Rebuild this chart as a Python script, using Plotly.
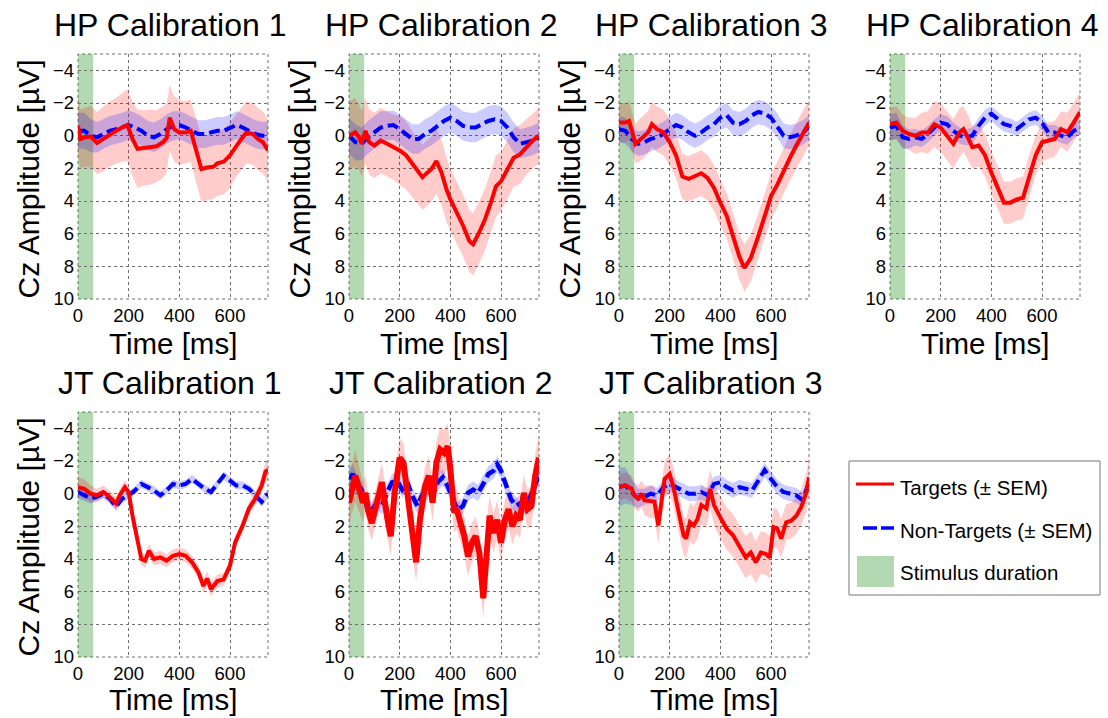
import plotly.graph_objects as go

# figure fills the whole window; body margin removed by a post script
OFF = 0
W, H = 1108, 718

# ---------------- data ----------------
t25 = [0, 25, 50, 75, 100, 125, 150, 175, 200, 225, 250, 275, 300, 325, 350, 375,
       400, 425, 450, 475, 500, 525, 550, 575, 600, 625, 650, 675, 700, 725, 750]

stim_window = [0, 60]

# HP Calibration 1
hp1_t_tg = [0, 10, 25, 50, 75, 100, 125, 150, 175, 195, 215, 235, 260, 285, 310, 335, 350, 362, 380, 400,
            425, 445, 465, 487, 510, 535, 550, 575, 600, 625, 645, 665, 690, 710, 730, 750]
hp1_tg = [-0.6, 0.2, 0.1, 0.05, 0.45, 0.2, -0.1, -0.3, -0.5, -0.65, 0.2, 0.8, 0.75, 0.7, 0.65, 0.4, 0.15, -1.1, -0.4, -0.2,
          -0.2, -0.3, 0.8, 2.05, 1.95, 1.9, 1.7, 1.6, 1.2, 0.6, 0.2, -0.2, -0.1, 0.2, 0.4, 0.9]
hp1_tg_sem = [1.8, 1.8, 1.8, 1.9, 1.9, 2.0, 2.0, 2.0, 2.1, 2.2, 2.3, 2.4, 2.3, 2.3, 2.2, 2.2, 2.1, 2.0, 2.0, 2.0,
              1.9, 1.9, 2.0, 2.0, 2.0, 2.0, 2.0, 2.0, 2.0, 1.9, 1.9, 1.9, 1.9, 1.9, 1.9, 1.9]
hp1_nt = [-0.3, -0.3, 0.0, 0.1, -0.1, -0.3, -0.4, -0.5, -0.65, -0.5, -0.3, 0.0, 0.1, -0.1, -0.4, -0.6,
          -0.65, -0.5, -0.3, -0.1, -0.1, -0.2, -0.3, -0.3, -0.45, -0.65, -0.5, -0.3, -0.1, 0.0, 0.0]
hp1_nt_sem = [1.1, 1.1, 1.0, 0.95, 0.9, 0.9, 0.9, 0.9, 0.9, 0.9, 0.9, 0.9, 0.9, 0.9, 0.9, 0.9,
              0.85, 0.85, 0.85, 0.85, 0.85, 0.85, 0.85, 0.85, 0.85, 0.85, 0.85, 0.85, 0.85, 0.85, 0.85]

# HP Calibration 2
hp2_t_tg = [0, 15, 25, 40, 50, 65, 80, 100, 125, 150, 175, 200, 225, 250, 275, 290, 310, 325, 345, 365,
            385, 400, 425, 450, 475, 490, 510, 535, 560, 580, 600, 625, 650, 675, 700, 725, 750]
hp2_tg = [0.0, -0.1, -0.2, 0.1, 0.5, -0.3, 0.4, 0.6, 0.3, 0.5, 0.7, 0.9, 1.2, 1.75, 2.25, 2.55, 2.25, 2.05, 1.55, 2.25,
          3.3, 3.9, 4.7, 5.5, 6.45, 6.65, 6.05, 5.2, 4.1, 3.1, 2.8, 2.05, 1.35, 1.15, 0.7, 0.3, 0.0]
hp2_tg_sem = [2.1, 2.1, 2.1, 2.0, 2.0, 2.0, 2.0, 2.0, 2.0, 2.0, 2.0, 2.1, 2.1, 2.0, 2.0, 2.0, 2.0, 2.0, 2.0, 2.0,
              2.0, 1.9, 1.9, 1.9, 1.9, 1.9, 1.9, 1.9, 1.9, 1.9, 1.8, 1.8, 1.8, 1.8, 1.7, 1.7, 1.7]
hp2_nt = [0.0, 0.4, 0.5, 0.1, -0.2, -0.5, -0.6, -0.65, -0.4, -0.1, 0.2, 0.2, -0.1, -0.3, -0.6, -0.9,
          -1.1, -0.9, -0.6, -0.5, -0.5, -0.7, -0.9, -1.0, -0.9, -0.5, 0.1, 0.5, 0.4, 0.3, 0.1]
hp2_nt_sem = [1.1, 1.1, 1.0, 1.0, 1.0, 1.0, 0.9, 0.9, 0.9, 0.9, 0.9, 0.9, 0.9, 0.9, 0.9, 0.9,
              0.9, 0.9, 0.9, 0.9, 0.9, 0.9, 0.9, 0.9, 0.9, 0.9, 0.9, 0.9, 0.9, 0.9, 0.9]

# HP Calibration 3
hp3_t_tg = [0, 25, 40, 55, 65, 80, 100, 115, 130, 150, 175, 200, 225, 250, 275, 300, 325, 350, 375, 400,
            425, 450, 475, 495, 520, 550, 575, 600, 625, 650, 675, 700, 725, 750]
hp3_tg = [-0.8, -0.8, -0.9, 0.0, 0.5, 0.3, 0.0, -0.2, -0.7, -0.4, -0.2, 0.4, 1.2, 2.5, 2.65, 2.45, 2.3, 2.6, 3.2, 4.1,
          4.9, 6.15, 7.4, 8.1, 7.5, 6.15, 4.9, 3.7, 3.0, 2.15, 1.35, 0.6, -0.1, -0.8]
hp3_tg_sem = [1.2, 1.2, 1.2, 1.2, 1.2, 1.3, 1.3, 1.3, 1.4, 1.4, 1.4, 1.4, 1.4, 1.4, 1.4, 1.4, 1.4, 1.4, 1.4, 1.4,
              1.4, 1.4, 1.4, 1.45, 1.45, 1.4, 1.4, 1.4, 1.4, 1.4, 1.4, 1.4, 1.4, 1.4]
hp3_nt = [-0.4, -0.3, 0.2, 0.5, 0.4, 0.2, 0.1, -0.1, -0.4, -0.65, -0.5, -0.2, 0.0, -0.2, -0.5, -0.7,
          -1.1, -1.25, -0.8, -0.7, -0.9, -1.25, -1.45, -1.35, -1.1, -0.6, 0.0, 0.1, 0.0, -0.2, -0.5]
hp3_nt_sem = [0.8, 0.8, 0.75, 0.75, 0.75, 0.75, 0.75, 0.75, 0.75, 0.75, 0.75, 0.75, 0.75, 0.75, 0.75, 0.75,
              0.75, 0.75, 0.75, 0.75, 0.75, 0.75, 0.75, 0.75, 0.75, 0.75, 0.75, 0.75, 0.75, 0.75, 0.75]

# HP Calibration 4
hp4_t_tg = [0, 25, 50, 75, 100, 125, 150, 175, 200, 225, 250, 275, 290, 310, 325, 350, 375, 400, 425, 450,
            475, 500, 525, 550, 575, 600, 625, 650, 675, 700, 725, 750]
hp4_tg = [-0.7, -0.8, -0.3, -0.1, 0.0, -0.2, -0.2, -0.7, -0.5, 0.0, 0.5, -0.2, -0.4, 0.2, 0.7, 0.6, 1.2, 2.25, 3.2, 4.1,
          4.1, 3.9, 3.8, 2.45, 1.2, 0.4, 0.3, 0.2, -0.4, -0.2, -0.8, -1.45]
hp4_tg_sem = [1.0, 1.0, 1.0, 1.0, 1.1, 1.2, 1.3, 1.4, 1.5, 1.5, 1.5, 1.5, 1.4, 1.4, 1.3, 1.3, 1.3, 1.3, 1.3, 1.3,
              1.3, 1.3, 1.3, 1.3, 1.2, 1.2, 1.1, 1.1, 1.1, 1.2, 1.2, 1.2]
hp4_nt = [-0.5, -0.6, 0.1, 0.2, 0.1, 0.2, -0.1, -0.5, -0.8, -0.7, -0.3, 0.0, 0.1, 0.0, -0.6, -1.1,
          -1.35, -1.0, -0.7, -0.6, -0.4, -0.7, -1.0, -1.1, -0.8, -0.2, -0.2, 0.0, 0.1, -0.3, -0.5]
hp4_nt_sem = [0.8, 0.8, 0.7, 0.6, 0.5, 0.5, 0.5, 0.5, 0.5, 0.5, 0.5, 0.5, 0.5, 0.5, 0.5, 0.5,
              0.45, 0.45, 0.45, 0.45, 0.45, 0.45, 0.45, 0.45, 0.45, 0.45, 0.45, 0.45, 0.45, 0.45, 0.45]

# JT Calibration 1
jt1_t_tg = [0, 25, 50, 75, 100, 125, 150, 165, 185, 200, 215, 235, 250, 265, 280, 300, 325, 350, 375, 400,
            425, 450, 475, 495, 510, 525, 550, 575, 600, 620, 650, 675, 700, 725, 740, 750]
jt1_tg = [-0.4, -0.3, 0.0, 0.1, -0.1, 0.2, 0.6, 0.1, -0.4, -0.1, 1.35, 2.9, 4.0, 4.1, 3.5, 4.0, 3.9, 4.1, 3.8, 3.7,
          3.8, 4.2, 4.8, 5.65, 5.2, 5.85, 5.35, 5.25, 4.4, 3.0, 1.95, 0.9, 0.3, -0.5, -1.35, -1.45]
jt1_tg_sem = [0.6, 0.6, 0.5, 0.4, 0.4, 0.4, 0.4, 0.4, 0.4, 0.4, 0.4, 0.4, 0.4, 0.4, 0.4, 0.4, 0.4, 0.4, 0.4, 0.4,
              0.4, 0.4, 0.4, 0.45, 0.45, 0.45, 0.4, 0.4, 0.4, 0.4, 0.4, 0.4, 0.4, 0.5, 0.6, 0.6]
jt1_nt = [-0.1, 0.1, 0.3, 0.2, 0.0, 0.3, 0.8, 0.3, 0.1, -0.2, -0.6, -0.4, -0.2, 0.1, -0.2, -0.6,
          -0.5, -0.6, -0.9, -0.6, -0.3, -0.1, -0.6, -1.1, -0.8, -0.5, -0.5, -0.3, 0.1, 0.5, 0.0]
jt1_nt_sem = [0.4, 0.35, 0.3, 0.25, 0.25, 0.25, 0.25, 0.25, 0.25, 0.25, 0.25, 0.25, 0.25, 0.25, 0.25, 0.25,
              0.25, 0.25, 0.25, 0.25, 0.25, 0.25, 0.25, 0.25, 0.25, 0.25, 0.25, 0.25, 0.25, 0.3, 0.3]

# JT Calibration 2
jt2_t_tg = [0, 10, 25, 40, 55, 65, 75, 90, 110, 130, 150, 165, 180, 200, 215, 230, 250, 265, 280, 300,
            315, 330, 345, 360, 375, 390, 400, 415, 425, 440, 455, 470, 485, 500, 515, 530, 545, 555, 570, 585,
            600, 615, 630, 645, 660, 675, 690, 705, 720, 735, 750]
jt2_tg = [0.55, -0.25, -1.1, -0.3, 0.55, -0.05, 1.0, 1.8, 0.45, -0.7, 1.4, 2.6, -0.05, -2.2, -1.9, 0.15, 2.6, 4.2, 1.6, -0.45,
          -1.1, 0.55, -1.9, -2.7, -2.5, -2.9, -1.5, 1.15, 0.95, 1.8, 2.6, 3.85, 3.0, 2.6, 3.65, 6.4, 2.6, 1.35, 2.4, 1.6,
          3.0, 1.6, 0.95, 2.0, 1.35, 1.6, -0.05, 0.95, 0.75, -1.1, -2.2]
jt2_tg_sem = [1.5, 1.5, 1.6, 1.4, 1.2, 1.1, 1.1, 1.1, 1.1, 1.2, 1.2, 1.2, 1.2, 1.2, 1.2, 1.2, 1.2, 1.2, 1.2, 1.2,
              1.2, 1.2, 1.3, 1.4, 1.4, 1.4, 1.3, 1.2, 1.2, 1.2, 1.2, 1.2, 1.2, 1.2, 1.2, 1.3, 1.2, 1.2, 1.2, 1.2,
              1.2, 1.2, 1.2, 1.1, 1.1, 1.1, 1.1, 1.2, 1.2, 1.3, 1.4]
jt2_t_nt = [0, 15, 30, 50, 70, 90, 110, 130, 150, 170, 190, 210, 230, 250, 270, 290, 310, 330, 350, 370,
            390, 410, 430, 450, 470, 490, 510, 530, 550, 570, 585, 600, 620, 640, 660, 680, 700, 720, 740, 750]
jt2_nt = [-0.9, -1.2, -0.6, -0.25, 0.75, 1.0, 0.55, 0.75, -0.05, -0.7, -0.8, -0.25, -0.7, 0.15, 0.75, -0.05, -0.7, 0.15, -0.7, -1.0,
          -0.45, 0.35, 1.0, 0.75, -0.05, -0.25, -0.05, -0.6, -1.2, -1.4, -1.8, -1.4, -0.45, 0.35, 0.75, 0.55, 0.75, 0.05, -0.7, -1.1]
jt2_nt_sem = [0.6, 0.6, 0.6, 0.5, 0.5, 0.5, 0.5, 0.5, 0.5, 0.5, 0.5, 0.5, 0.5, 0.5, 0.5, 0.5, 0.5, 0.5, 0.5, 0.5,
              0.5, 0.5, 0.5, 0.5, 0.5, 0.5, 0.5, 0.5, 0.5, 0.5, 0.5, 0.5, 0.5, 0.5, 0.5, 0.5, 0.5, 0.5, 0.5, 0.5]

# JT Calibration 3
jt3_t_tg = [0, 25, 50, 60, 75, 90, 100, 125, 140, 155, 165, 180, 200, 215, 235, 255, 265, 280, 295, 310,
            325, 345, 360, 375, 400, 425, 450, 475, 500, 520, 540, 560, 580, 595, 610, 625, 640, 660, 680, 700,
            720, 740, 750]
jt3_tg = [-0.4, -0.5, -0.3, 0.1, 0.3, 0.0, 0.4, 0.5, 0.5, 1.95, 0.7, -0.9, -1.2, -0.4, 1.1, 2.55, 2.75, 1.75, 1.95, 1.55,
          0.7, 0.9, -0.3, 0.7, 1.45, 2.15, 2.55, 3.2, 3.9, 3.6, 4.2, 3.6, 3.7, 3.9, 2.05, 2.15, 2.75, 1.75, 1.65, 1.35,
          0.8, -0.1, -1.0]
jt3_tg_sem = [0.8, 0.8, 0.8, 0.8, 0.8, 0.8, 0.9, 1.0, 1.0, 1.1, 1.1, 1.1, 1.2, 1.2, 1.2, 1.2, 1.2, 1.2, 1.2, 1.2,
              1.2, 1.2, 1.2, 1.2, 1.3, 1.3, 1.3, 1.3, 1.3, 1.3, 1.3, 1.3, 1.3, 1.3, 1.2, 1.2, 1.2, 1.1, 1.1, 1.1,
              1.1, 1.2, 1.2]
jt3_nt = [-0.4, -0.5, -0.1, 0.3, 0.2, 0.0, 0.1, -0.4, -0.6, -0.4, -0.2, 0.0, 0.0, -0.1, 0.1, -0.6,
          -0.7, -0.4, -0.2, -0.4, -0.3, -0.2, -0.8, -1.45, -0.9, -0.4, -0.1, 0.0, 0.1, 0.4, -0.7]
jt3_nt_sem = [1.2, 1.1, 0.8, 0.6, 0.5, 0.5, 0.45, 0.45, 0.45, 0.45, 0.45, 0.45, 0.45, 0.45, 0.45, 0.45,
              0.45, 0.45, 0.45, 0.45, 0.45, 0.45, 0.45, 0.45, 0.45, 0.45, 0.45, 0.45, 0.45, 0.45, 0.45]

panel_titles = ["HP Calibration 1", "HP Calibration 2", "HP Calibration 3", "HP Calibration 4",
                "JT Calibration 1", "JT Calibration 2", "JT Calibration 3"]
x_ticks = [0, 200, 400, 600]
y_ticks = [-4, -2, 0, 2, 4, 6, 8, 10]
legend_labels = ["Targets (± SEM)", "Non-Targets (± SEM)", "Stimulus duration"]

# ---------------- layout helpers ----------------
FONT = "Liberation Sans, Arial, sans-serif"
RED = "#ff0000"
BLUE = "#0000ff"
RED_BAND = "rgba(255,0,0,0.2)"
BLUE_BAND = "rgba(0,0,255,0.2)"
GREEN = "rgba(0,128,0,0.3)"
GRID = "#707070"


def px(x):  # window pixel -> paper fraction
    return (x - OFF) / W


def py(y):
    return 1 - (y - OFF) / H


cols_px = [(78, 268), (349, 539), (619, 809), (890, 1080)]
rows_px = [(54, 299), (412, 657)]
title_y = [25, 383]
xlabel_y = [343, 699]

panels = [
    dict(r=0, c=0, ty=hp1_t_tg, tg=hp1_tg, tgs=hp1_tg_sem, tn=t25, nt=hp1_nt, nts=hp1_nt_sem, ylab=True, lw=4, bw=4),
    dict(r=0, c=1, ty=hp2_t_tg, tg=hp2_tg, tgs=hp2_tg_sem, tn=t25, nt=hp2_nt, nts=hp2_nt_sem, ylab=True, lw=4, bw=4),
    dict(r=0, c=2, ty=hp3_t_tg, tg=hp3_tg, tgs=hp3_tg_sem, tn=t25, nt=hp3_nt, nts=hp3_nt_sem, ylab=True, lw=4, bw=4),
    dict(r=0, c=3, ty=hp4_t_tg, tg=hp4_tg, tgs=hp4_tg_sem, tn=t25, nt=hp4_nt, nts=hp4_nt_sem, ylab=False, lw=4, bw=4),
    dict(r=1, c=0, ty=jt1_t_tg, tg=jt1_tg, tgs=jt1_tg_sem, tn=t25, nt=jt1_nt, nts=jt1_nt_sem, ylab=True, lw=4, bw=4),
    dict(r=1, c=1, ty=jt2_t_tg, tg=jt2_tg, tgs=jt2_tg_sem, tn=jt2_t_nt, nt=jt2_nt, nts=jt2_nt_sem, ylab=False, lw=6, bw=4.5),
    dict(r=1, c=2, ty=jt3_t_tg, tg=jt3_tg, tgs=jt3_tg_sem, tn=t25, nt=jt3_nt, nts=jt3_nt_sem, ylab=False, lw=4, bw=4),
]

fig = go.Figure()
layout = dict(template="none", width=W, height=H, margin=dict(l=0, r=0, t=0, b=0, pad=0, autoexpand=False),
              paper_bgcolor="white", plot_bgcolor="white", showlegend=False,
              font=dict(family=FONT, color="black"))
shapes, annotations = [], []


def band(t, m, s):
    up = [a - b for a, b in zip(m, s)]
    lo = [a + b for a, b in zip(m, s)]
    return list(t) + list(t)[::-1], up + lo[::-1]


for i, p in enumerate(panels):
    k = i + 1
    sfx = "" if k == 1 else str(k)
    xa, ya = "x" + sfx, "y" + sfx
    x0, x1 = cols_px[p["c"]]
    y0, y1 = rows_px[p["r"]]
    layout["xaxis" + sfx] = dict(domain=[px(x0), px(x1)], anchor=ya, range=[0, 750], automargin=False,
                                 tickvals=x_ticks, showgrid=True, gridcolor=GRID, griddash="dot",
                                 gridwidth=1, zeroline=False, showline=False, ticks="",
                                 ticklabelstandoff=3,
                                 tickfont=dict(size=18.5, family=FONT, color="black"))
    layout["yaxis" + sfx] = dict(domain=[py(y1), py(y0)], anchor=xa, range=[10, -5], automargin=False,
                                 tickvals=y_ticks, showgrid=True, gridcolor=GRID, griddash="dot",
                                 gridwidth=1, zeroline=False, showline=False, ticks="",
                                 ticklabelstandoff=3,
                                 tickfont=dict(size=18.5, family=FONT, color="black"))
    # axis box (dotted)
    shapes.append(dict(type="rect", xref=f"{xa} domain", yref=f"{ya} domain", x0=0, x1=1, y0=0, y1=1,
                       line=dict(color=GRID, width=1, dash="dot"), layer="below"))
    # stimulus duration
    shapes.append(dict(type="rect", xref=xa, yref=f"{ya} domain", x0=stim_window[0], x1=stim_window[1],
                       y0=0, y1=1, fillcolor=GREEN, line=dict(width=0), layer="below"))

    bx, by = band(p["ty"], p["tg"], p["tgs"])
    fig.add_trace(go.Scatter(x=bx, y=by, xaxis=xa, yaxis=ya, fill="toself", fillcolor=RED_BAND,
                             line=dict(width=0), mode="lines", hoverinfo="skip"))
    bx, by = band(p["tn"], p["nt"], p["nts"])
    fig.add_trace(go.Scatter(x=bx, y=by, xaxis=xa, yaxis=ya, fill="toself", fillcolor=BLUE_BAND,
                             line=dict(width=0), mode="lines", hoverinfo="skip"))
    fig.add_trace(go.Scatter(x=p["tn"], y=p["nt"], xaxis=xa, yaxis=ya, mode="lines",
                             line=dict(color=BLUE, width=p["bw"], dash="11px,5px")))
    fig.add_trace(go.Scatter(x=p["ty"], y=p["tg"], xaxis=xa, yaxis=ya, mode="lines",
                             line=dict(color=RED, width=p["lw"])))

    cx = (x0 + x1) / 2
    annotations.append(dict(text=panel_titles[i], xref="paper", yref="paper", x=px(cx - 3),
                            y=py(title_y[p["r"]]), xanchor="center", yanchor="middle",
                            showarrow=False, font=dict(size=32, family=FONT, color="black")))
    annotations.append(dict(text="Time [ms]", xref="paper", yref="paper", x=px(cx),
                            y=py(xlabel_y[p["r"]]), xanchor="center", yanchor="middle",
                            showarrow=False, font=dict(size=29.5, family=FONT, color="black")))
    if p["ylab"]:
        annotations.append(dict(text="Cz Amplitude [µV]", xref="paper", yref="paper", x=px(x0 - 50),
                                y=py((y0 + y1) / 2 + 3), xanchor="center", yanchor="middle",
                                textangle=-90, showarrow=False,
                                font=dict(size=30, family=FONT, color="black")))

# ---------------- legend box ----------------
shapes.append(dict(type="rect", xref="paper", yref="paper", x0=px(849), x1=px(1100), y0=py(595), y1=py(461),
                   line=dict(color="#777777", width=1), fillcolor="white"))
shapes.append(dict(type="line", xref="paper", yref="paper", x0=px(856), x1=px(894), y0=py(484), y1=py(484),
                   line=dict(color=RED, width=3)))
shapes.append(dict(type="line", xref="paper", yref="paper", x0=px(863), x1=px(894), y0=py(528), y1=py(528),
                   line=dict(color=BLUE, width=3.5, dash="14px,4px")))
shapes.append(dict(type="rect", xref="paper", yref="paper", x0=px(857), x1=px(894), y0=py(587), y1=py(556),
                   fillcolor=GREEN, line=dict(width=0)))
for lab, yy in zip(legend_labels, [487, 530, 572]):
    annotations.append(dict(text=lab, xref="paper", yref="paper", x=px(898), y=py(yy),
                            xanchor="left", yanchor="middle", showarrow=False,
                            font=dict(size=20.5, family=FONT, color="black")))

layout["shapes"] = shapes
layout["annotations"] = annotations
fig.update_layout(**layout)
fig.write_html("out.html", config={"displayModeBar": False},
               post_script="document.body.style.margin='0px';document.body.style.overflow='hidden';")
